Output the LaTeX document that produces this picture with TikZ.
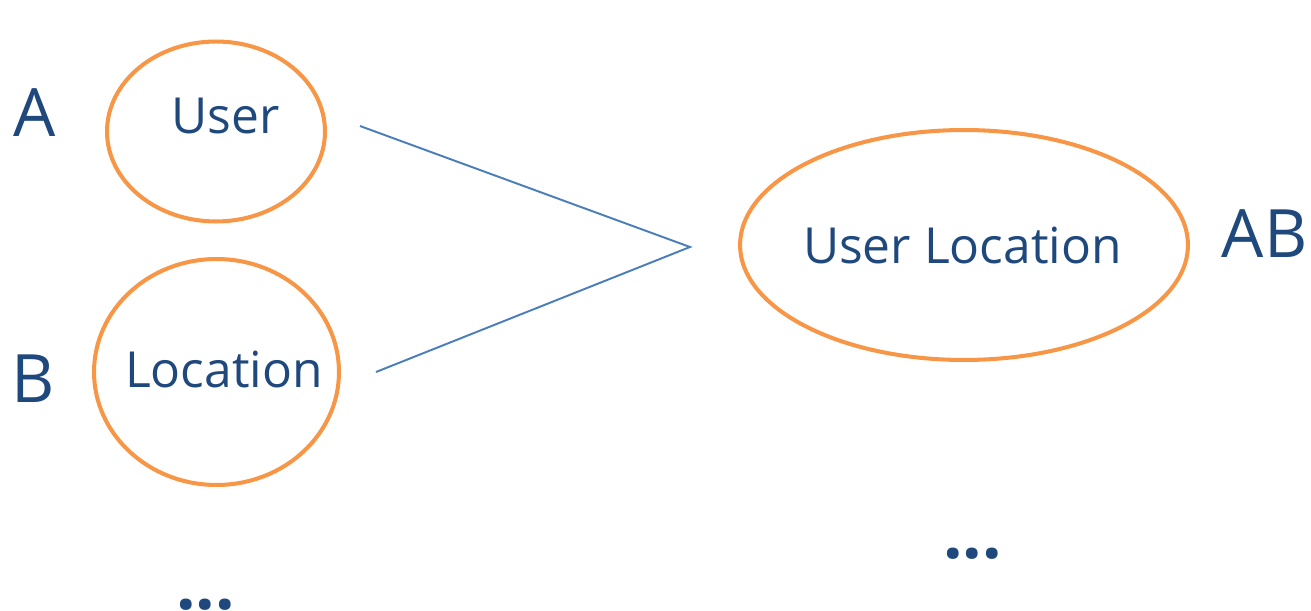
\documentclass[tikz,border=0pt]{standalone}
\usepackage{fontspec}
\setmainfont{Open Sans}
\usetikzlibrary{shapes.geometric}
\definecolor{inkblue}{HTML}{1F497D}
\definecolor{ringorange}{HTML}{F79646}
\definecolor{linkblue}{HTML}{4A7EBB}
\tikzset{
  ring/.style={ellipse, draw=ringorange, line width=2.3pt, inner sep=0pt},
  word/.style={text=inkblue, anchor=base, inner sep=0pt, font=\fontsize{28.3pt}{34pt}\selectfont},
  tag/.style={text=inkblue, anchor=base, inner sep=0pt, font=\fontsize{38pt}{44pt}\selectfont},
  more/.style={text=inkblue, anchor=base, inner sep=0pt, font=\fontsize{39pt}{44pt}\selectfont\bfseries}
}
\tikzset{
  link/.style={draw=linkblue, line width=1.1pt}
}
\begin{document}
\begin{tikzpicture}[x=0.02cm, y=-0.02cm]
  \path[use as bounding box] (0,0) rectangle (1311,611);

  % sets
  \node[ring, minimum width=4.36cm, minimum height=3.6cm] (user) at (216,131.5) {};
  \node[ring, minimum width=4.9cm, minimum height=4.52cm] (loc) at (216.5,372) {};
  \node[ring, minimum width=8.96cm, minimum height=4.6cm] (userloc) at (964,245) {};

  % names inside the sets
  \node[word] (userlbl) at (225.5,134) {User};
  \node[word] (loclbl) at (224,387) {Location};
  \node[word] (userloclbl) at (962.5,263) {User Location};

  % letters
  \node[tag] (a) at (35,137) {A};
  \node[tag] (b) at (33.5,402) {B};
  \node[tag] (ab) at (1264.5,257) {AB};

  % continuation marks
  \node[more] (moreleft) at (205.5,609) {...};
  \node[more] (moreright) at (972.5,558) {...};

  % join lines
  \coordinate (from1) at (360,126);
  \coordinate (from2) at (376,372);
  \coordinate (apex) at (690,247);
  \draw[link] (from1) -- (apex) -- (from2);
\end{tikzpicture}
\end{document}
